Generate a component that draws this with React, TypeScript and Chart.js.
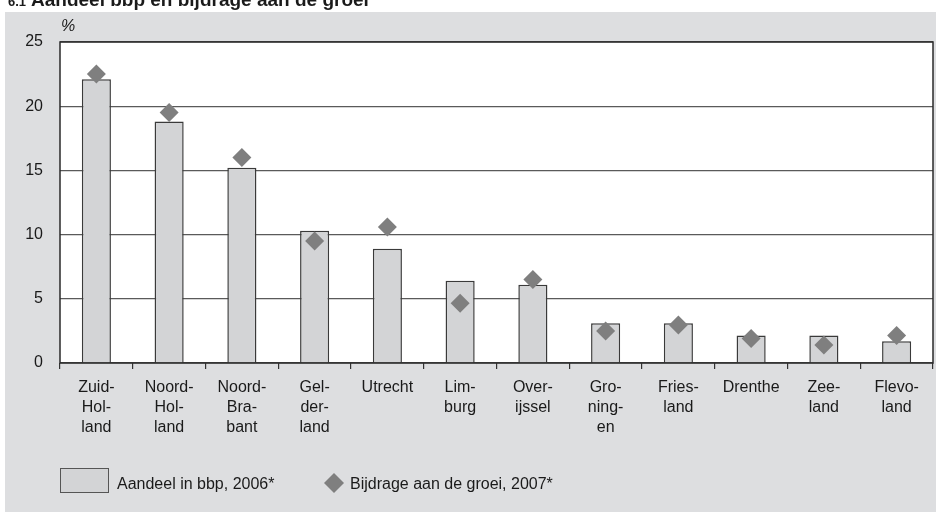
import React, { useEffect, useRef } from "react";
import { Chart, registerables } from "chart.js";

Chart.register(...registerables);

const categories: string[][] = [
  ["Zuid-", "Hol-", "land"],
  ["Noord-", "Hol-", "land"],
  ["Noord-", "Bra-", "bant"],
  ["Gel-", "der-", "land"],
  ["Utrecht"],
  ["Lim-", "burg"],
  ["Over-", "ijssel"],
  ["Gro-", "ning-", "en"],
  ["Fries-", "land"],
  ["Drenthe"],
  ["Zee-", "land"],
  ["Flevo-", "land"],
];

const aandeelBbp2006 = [22.1, 18.8, 15.2, 10.3, 8.9, 6.4, 6.1, 3.1, 3.1, 2.15, 2.15, 1.7];
const bijdrageGroei2007 = [22.5, 19.5, 16.0, 9.5, 10.6, 4.65, 6.5, 2.5, 2.95, 1.9, 1.4, 2.15];

const yTicks = [0, 5, 10, 15, 20, 25];

const titleNumber = "6.1";
const titleText = "Aandeel bbp en bijdrage aan de groei";
const unitLabel = "%";
const legendBar = "Aandeel in bbp, 2006*";
const legendPoint = "Bijdrage aan de groei, 2007*";

const FONT = "'Liberation Sans', Arial, sans-serif";
const BAR_FILL = "#d3d4d6";
const POINT_FILL = "#7f7f7f";
const PANEL = "#dddee0";
const TEXT = "#1a1a1a";

const decorPlugin = {
  id: "decor",
  beforeDraw(chart: any) {
    const { ctx, chartArea, width, height } = chart;
    ctx.save();
    ctx.fillStyle = "#ffffff";
    ctx.fillRect(0, 0, width, height);
    ctx.fillStyle = PANEL;
    ctx.fillRect(5, 12, width - 5, height - 12);
    ctx.fillStyle = "#ffffff";
    ctx.fillRect(chartArea.left, chartArea.top, chartArea.right - chartArea.left, chartArea.bottom - chartArea.top);
    // title (cut off at the top)
    ctx.fillStyle = TEXT;
    ctx.textBaseline = "alphabetic";
    ctx.textAlign = "left";
    ctx.font = `bold 13px ${FONT}`;
    ctx.fillText(titleNumber, 8, 6);
    ctx.font = `bold 19px ${FONT}`;
    ctx.fillText(titleText, 31, 6);
    ctx.restore();
  },
  afterDraw(chart: any) {
    const { ctx, chartArea } = chart;
    ctx.save();
    // plot border
    ctx.strokeStyle = "#2a2a2a";
    ctx.lineWidth = 1.5;
    ctx.strokeRect(chartArea.left, chartArea.top, chartArea.right - chartArea.left, chartArea.bottom - chartArea.top);
    // unit label
    ctx.fillStyle = TEXT;
    ctx.font = `italic 16px ${FONT}`;
    ctx.textAlign = "left";
    ctx.textBaseline = "alphabetic";
    ctx.fillText(unitLabel, chartArea.left + 1, 31);
    // legend
    ctx.fillStyle = BAR_FILL;
    ctx.fillRect(60.5, 468.5, 48, 24);
    ctx.strokeStyle = "#555";
    ctx.lineWidth = 1;
    ctx.strokeRect(60.5, 468.5, 48, 24);
    ctx.fillStyle = TEXT;
    ctx.font = `16px ${FONT}`;
    ctx.fillText(legendBar, 117, 489);
    ctx.fillStyle = POINT_FILL;
    ctx.beginPath();
    ctx.moveTo(334, 473);
    ctx.lineTo(344, 483);
    ctx.lineTo(334, 493);
    ctx.lineTo(324, 483);
    ctx.closePath();
    ctx.fill();
    ctx.fillStyle = TEXT;
    ctx.fillText(legendPoint, 350, 489);
    ctx.restore();
  },
};

export default function App() {
  const canvasRef = useRef<HTMLCanvasElement | null>(null);

  useEffect(() => {
    if (!canvasRef.current) return;
    Chart.defaults.font.family = FONT;
    const chart = new Chart(canvasRef.current, {
      type: "bar",
      data: {
        labels: categories as any,
        datasets: [
          {
            type: "line" as any,
            label: legendPoint,
            data: bijdrageGroei2007,
            showLine: false,
            pointStyle: "rectRot",
            pointRadius: 9.5,
            pointHoverRadius: 9.5,
            pointBackgroundColor: POINT_FILL,
            pointBorderColor: POINT_FILL,
            pointBorderWidth: 0,
            order: 1,
          } as any,
          {
            type: "bar",
            label: legendBar,
            data: aandeelBbp2006,
            backgroundColor: BAR_FILL,
            borderColor: "#3a3a3a",
            borderWidth: 1.5,
            barPercentage: 0.4,
            categoryPercentage: 1,
            order: 2,
          },
        ],
      },
      options: {
        responsive: false,
        animation: false,
        events: [],
        layout: { autoPadding: false, padding: { top: 42, right: 3, left: 0, bottom: 0 } },
        plugins: {
          legend: { display: false },
          tooltip: { enabled: false },
          title: { display: false },
        },
        scales: {
          x: {
            offset: true,
            grid: {
              display: true,
              drawOnChartArea: false,
              drawTicks: true,
              tickLength: 6,
              color: "#333",
              lineWidth: 1.2,
              offset: true,
            },
            border: { display: false },
            ticks: {
              color: TEXT,
              font: { size: 16, lineHeight: 1.25 },
              maxRotation: 0,
              minRotation: 0,
              autoSkip: false,
              padding: 9,
            },
            afterFit: (s: any) => {
              s.height = 149;
              s.paddingLeft = 0;
              s.paddingRight = 0;
            },
          },
          y: {
            min: 0,
            max: 25,
            afterBuildTicks: (s: any) => {
              s.ticks = yTicks.map((v) => ({ value: v }));
            },
            grid: { color: "#5a5a5a", lineWidth: 1.2, drawTicks: false },
            border: { display: false },
            ticks: {
              color: TEXT,
              font: { size: 16 },
              padding: 17,
            },
            afterFit: (s: any) => {
              s.width = 60;
              s.paddingTop = 0;
              s.paddingBottom = 0;
            },
          },
        },
      },
      plugins: [decorPlugin],
    });
    return () => chart.destroy();
  }, []);

  return (
    <div style={{ position: "absolute", left: 0, top: 0, width: 936, height: 512 }}>
      <canvas ref={canvasRef} width={936} height={512} style={{ display: "block" }} />
    </div>
  );
}
